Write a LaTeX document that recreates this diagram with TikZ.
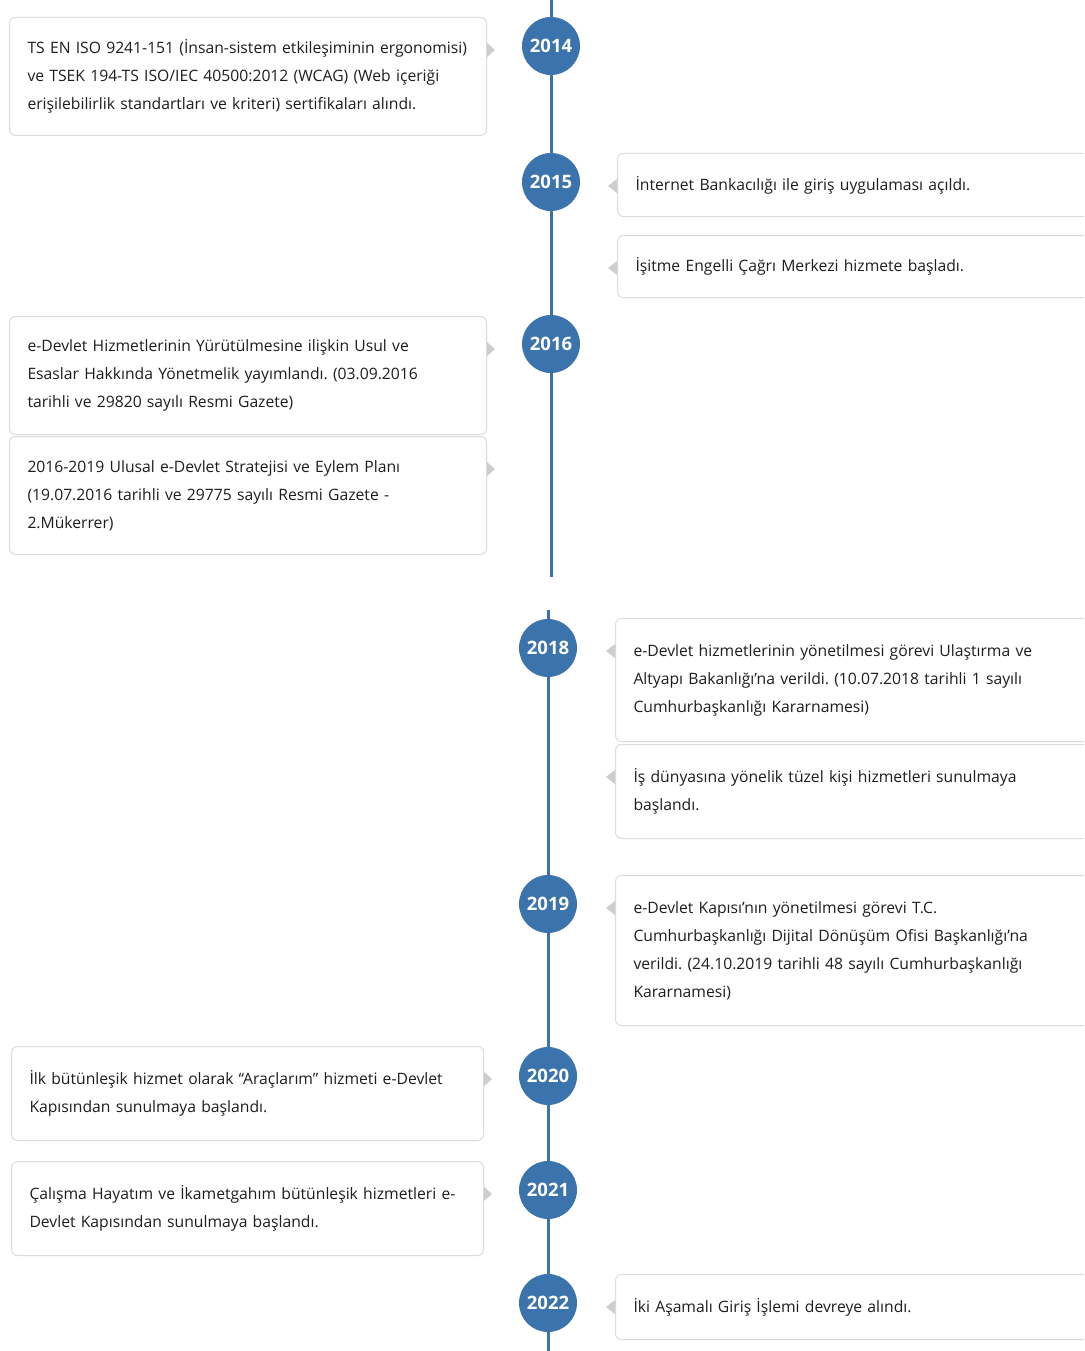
\documentclass[tikz,border=0pt]{standalone}
\usepackage{fontspec}
\setmainfont{Open Sans}
\frenchspacing
\usetikzlibrary{positioning}
\definecolor{YearBlue}{RGB}{59,115,172}
\definecolor{BoxLine}{RGB}{220,220,220}
\definecolor{TipGray}{RGB}{205,205,205}
\definecolor{EventText}{RGB}{30,30,30}
\tikzstyle{year} = [circle, fill=YearBlue, text=white, minimum size=58pt, inner sep=0pt, font=\fontsize{18.5}{20}\selectfont\bfseries]
\tikzstyle{event} = [rectangle, rounded corners=6pt, draw=BoxLine, line width=1pt, fill=white, anchor=north west, align=left, text=EventText, inner xsep=18pt, inner ysep=0pt, font=\fontsize{15.7}{28}\selectfont]
\tikzstyle{leftevent} = [event, text width=441pt]
\tikzstyle{lowleftevent} = [event, text width=436pt]
\tikzstyle{rightevent} = [event, text width=460pt]
\tikzstyle{axis} = [YearBlue, line width=3pt]
\tikzstyle{tip} = [fill=TipGray]
\newcommand{\tipright}[1]{\fill[tip] ([yshift=-33pt]#1.north east) ++(0,-7) -- ++(8,7) -- ++(-8,7) -- cycle;}
\newcommand{\tipleft}[1]{\fill[tip] ([yshift=-33pt]#1.north west) ++(0,-7) -- ++(-9,7) -- ++(9,7) -- cycle;}

\begin{document}
\begin{tikzpicture}[x=1pt, y=-1pt]
  \clip (0,0) rectangle (1084,1351);
  \fill[white] (0,0) rectangle (1084,1351);

  % time axis, two pieces
  \coordinate (axisAtop) at (551,0);
  \coordinate (axisAbot) at (551,577);
  \coordinate (axisBtop) at (548,610);
  \coordinate (axisBbot) at (548,1351);
  \draw [axis] (axisAtop) -- (axisAbot);
  \draw [axis] (axisBtop) -- (axisBbot);

  \node (y2014) [year] at (551,46) {2014};
  \node (y2015) [year] at (551,182) {2015};
  \node (y2016) [year] at (551,344) {2016};
  \node (y2018) [year] at (548,648) {2018};
  \node (y2019) [year] at (548,904) {2019};
  \node (y2020) [year] at (548,1076) {2020};
  \node (y2021) [year] at (548,1190) {2021};
  \node (y2022) [year] at (548,1303) {2022};

  \node (ev2014) [leftevent, minimum height=118pt] at (9,17) {TS EN ISO 9241-151 (İnsan-sistem etkileşiminin ergonomisi)\\ ve TSEK 194-TS ISO/IEC 40500:2012 (WCAG) (Web içeriği\\ erişilebilirlik standartları ve kriteri) sertifikaları alındı.};
  \node (ev2015a) [rightevent, minimum height=63pt] at (617,153) {İnternet Bankacılığı ile giriş uygulaması açıldı.};
  \node (ev2015b) [rightevent, minimum height=62pt, below=18pt of ev2015a] {İşitme Engelli Çağrı Merkezi hizmete başladı.};
  \node (ev2016a) [leftevent, minimum height=118pt] at (9,316) {e-Devlet Hizmetlerinin Yürütülmesine ilişkin Usul ve\\ Esaslar Hakkında Yönetmelik yayımlandı. (03.09.2016\\ tarihli ve 29820 sayılı Resmi Gazete)};
  \node (ev2016b) [leftevent, minimum height=118pt, below=1pt of ev2016a] {2016-2019 Ulusal e-Devlet Stratejisi ve Eylem Planı\\ (19.07.2016 tarihli ve 29775 sayılı Resmi Gazete -\\ 2.Mükerrer)};

  \node (ev2018a) [rightevent, minimum height=123pt] at (615,618) {e-Devlet hizmetlerinin yönetilmesi görevi Ulaştırma ve\\ Altyapı Bakanlığı'na verildi. (10.07.2018 tarihli 1 sayılı\\ Cumhurbaşkanlığı Kararnamesi)};
  \node (ev2018b) [rightevent, minimum height=94pt, below=2pt of ev2018a] {İş dünyasına yönelik tüzel kişi hizmetleri sunulmaya\\ başlandı.};
  \node (ev2019) [rightevent, minimum height=150pt] at (615,875) {e-Devlet Kapısı’nın yönetilmesi görevi T.C.\\ Cumhurbaşkanlığı Dijital Dönüşüm Ofisi Başkanlığı’na\\ verildi. (24.10.2019 tarihli 48 sayılı Cumhurbaşkanlığı\\ Kararnamesi)};
  \node (ev2020) [lowleftevent, minimum height=94pt] at (11,1046) {İlk bütünleşik hizmet olarak “Araçlarım” hizmeti e-Devlet\\ Kapısından sunulmaya başlandı.};
  \node (ev2021) [lowleftevent, minimum height=94pt] at (11,1161) {Çalışma Hayatım ve İkametgahım bütünleşik hizmetleri e-\\ Devlet Kapısından sunulmaya başlandı.};
  \node (ev2022) [rightevent, minimum height=65pt] at (615,1274) {İki Aşamalı Giriş İşlemi devreye alındı.};

  \tipright{ev2014}
  \tipright{ev2016a}
  \tipright{ev2016b}
  \tipright{ev2020}
  \tipright{ev2021}
  \tipleft{ev2015a}
  \tipleft{ev2015b}
  \tipleft{ev2018a}
  \tipleft{ev2018b}
  \tipleft{ev2019}
  \tipleft{ev2022}

\end{tikzpicture}
\end{document}
